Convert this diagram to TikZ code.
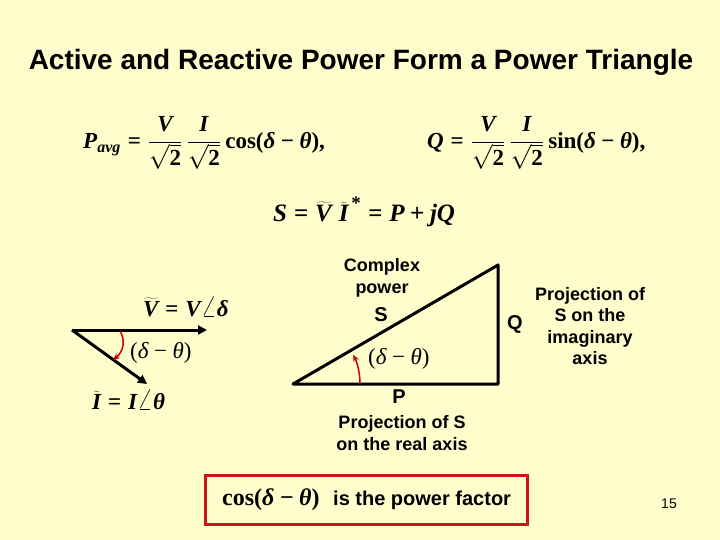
\documentclass[tikz,border=0pt]{standalone}
\usepackage{fontspec}
\setmainfont{Liberation Serif}
\setsansfont{Liberation Sans}
\usetikzlibrary{arrows.meta}
\definecolor{bgyellow}{RGB}{255,253,204}
\definecolor{boxred}{RGB}{204,20,20}
\newcommand{\myEqFont}{\fontsize{23}{27}\selectfont}
\newcommand{\mySeqFont}{\fontsize{25}{29}\selectfont}
\newcommand{\myEqsFont}{\fontsize{23}{27}\selectfont}
\newcommand{\myLblFont}{\sffamily\bfseries\fontsize{18}{21.5}\selectfont}
\newcommand{\myBigFont}{\sffamily\bfseries\fontsize{20}{22}\selectfont}
\newcommand{\myTitleFont}{\sffamily\bfseries\fontsize{28}{32}\selectfont}
\newcommand{\myPfFont}{\sffamily\bfseries\fontsize{20}{24}\selectfont}
\newcommand{\myNumFont}{\sffamily\fontsize{14}{16}\selectfont}
\newcommand{\myBI}[1]{\mbox{\bfseries\itshape #1}}
\newcommand{\myBN}[1]{\mbox{\bfseries #1}}
\newcommand{\myRI}[1]{\mbox{\itshape #1}}
\newcommand{\myRN}[1]{\mbox{#1}}
\newcommand{\mySub}[1]{\mbox{\fontsize{16}{18}\selectfont\bfseries\itshape #1}}
\newcommand{\myStar}{\mbox{\fontsize{19}{20}\selectfont\bfseries *}}
\newcommand{\myAng}{\mbox{\fontsize{30}{32}\selectfont$\angle$}}
\newcommand{\myMinus}{\mathbin{\mbox{\bfseries −}}}
\newcommand{\myFr}[1]{{\displaystyle\frac{\myBI{#1}}{\sqrt{\myBN{2}}}}}
\tikzset{
  sanslbl/.style={font=\myLblFont, align=center, inner sep=0pt},
  eqn/.style={font=\myEqFont, inner sep=0pt},
  eqs/.style={font=\myEqsFont, inner sep=0pt},
  bigsans/.style={font=\myBigFont, inner sep=0pt},
  vecline/.style={line width=3pt, -{Triangle[length=9pt,width=9pt]}},
  triline/.style={line width=3pt, line cap=round, line join=round},
  anglearrow/.style={draw=red!80!black, line width=1.5pt, -{Stealth[length=7pt,width=6pt]}}
}
\begin{document}
\begin{tikzpicture}[x=1pt,y=-1pt]
\fill[bgyellow] (0,0) rectangle (720,540);
\useasboundingbox (0,0) rectangle (720,540);
\node[font=\myTitleFont, inner sep=0pt] (title) at (361,62) {Active and Reactive Power Form a Power Triangle};
\node[eqn, anchor=west] (peq) at (83,143) {$\myBI{P}_{\mySub{avg}} \mathrel{\myBN{=}} \myFr{V}\,\myFr{I}\,\myBN{cos(}\myBI{δ}\myMinus\myBI{θ}\myBN{),}$};
\node[eqn, anchor=west] (qeq) at (427,143) {$\myBI{Q} \mathrel{\myBN{=}} \myFr{V}\,\myFr{I}\,\myBN{sin(}\myBI{δ}\myMinus\myBI{θ}\myBN{),}$};
\node[font=\mySeqFont, inner sep=0pt, anchor=west] (seq) at (273,212) {$\myBI{S} \mathrel{\myBN{=}} \widetilde{\myBI{V}}\;\widetilde{\myBI{I}}^{\,\myStar} \mathrel{\myBN{=}} \myBI{P} \mathbin{\myBN{+}} \myBI{jQ}$};
\coordinate (o) at (72,330);
\coordinate (vtip) at (207,330);
\coordinate (itip) at (147,384);
\draw[vecline] (o) -- (vtip);
\draw[vecline] (o) -- (itip);
\draw[anglearrow] (120,331) .. controls (126,341) and (123,352) .. (113,360);
\node[eqs, anchor=west] (vlbl) at (143,307) {$\widetilde{\myBI{V}} \mathrel{\myBN{=}} \myBI{V}\myAng\myBI{δ}$};
\node[eqs, anchor=west] (dlbl1) at (130,353) {$\myRN{(}\myRI{δ}\mathbin{\myRN{−}}\myRI{θ}\myRN{)}$};
\node[eqs, anchor=west] (ilbl) at (92,400) {$\widetilde{\myBI{I}} \mathrel{\myBN{=}} \myBI{I}\myAng\myBI{θ}$};
\coordinate (A) at (293,384);
\coordinate (B) at (498,384);
\coordinate (C) at (498,265);
\draw[triline] (A) -- (B) -- (C) -- cycle;
\draw[anglearrow] (360,384) arc[start angle=0, end angle=-26, radius=67];
\node[eqs, anchor=west] (dlbl2) at (368,359) {$\myRN{(}\myRI{δ}\mathbin{\myRN{−}}\myRI{θ}\myRN{)}$};
\node[sanslbl] (cplx) at (382,278) {Complex\\power};
\node[bigsans] (S) at (381,315) {S};
\node[bigsans] (Q) at (515,324) {Q};
\node[sanslbl] (qproj) at (590,326) {Projection of\\S on the\\imaginary\\axis};
\node[bigsans] (P) at (399,397) {P};
\node[sanslbl] (pproj) at (402,433) {Projection of S\\on the real axis};
\node[draw=boxred, line width=3pt, minimum width=322pt, minimum height=49pt, inner sep=0pt] (pfbox) at (366.5,499.5) {};
\node[font=\fontsize{24}{28}\selectfont, inner sep=0pt, anchor=west] (pfcos) at (222,500) {$\myBN{cos(}\myBI{δ}\myMinus\myBI{θ}\myBN{)}$};
\node[font=\myPfFont, inner sep=0pt, anchor=west] (pftxt) at (333,500) {is the power factor};
\node[font=\myNumFont, inner sep=0pt] (pnum) at (669,504) {15};
\end{tikzpicture}
\end{document}
